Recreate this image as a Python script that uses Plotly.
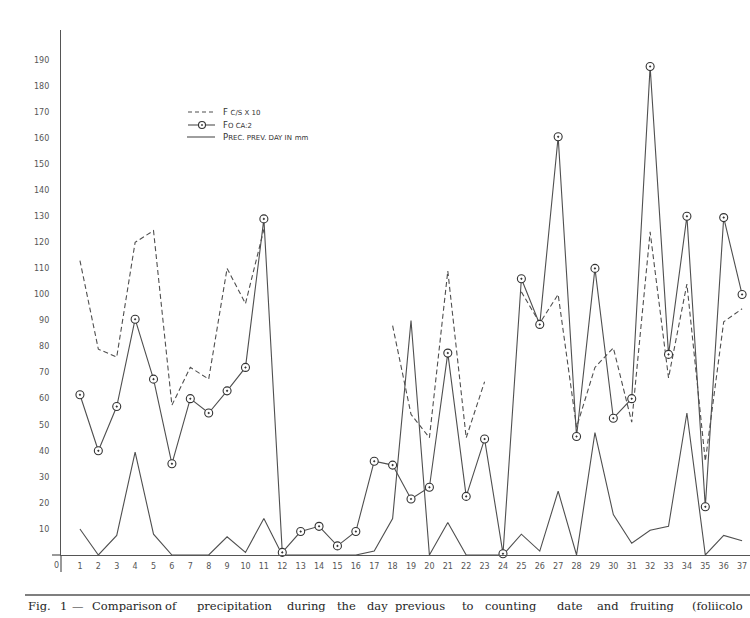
import plotly.graph_objects as go

# ---------------- data ----------------
days = list(range(1, 38))
x_tick_labels = [str(d) for d in days]
y_tick_vals = list(range(10, 200, 10))

# F c/s x 10 (dashed); None = no observation
f_cs_x10 = [113, 79, 76, 120, 124.5, 57.5, 72, 67.5, 110, 96.5, 125,
            None, None, None, None, None, None,
            88, 54, 45, 109, 45, 66.5,
            None,
            101, 89, 100, 49, 72, 79.5, 51, 124, 68, 104, 36, 89.5, 94.5]

# Fo CA:2 (solid with circles)
fo_ca2 = [61.5, 40, 57, 90.5, 67.5, 35, 60, 54.5, 63, 72, 129,
          1, 9, 11, 3.5, 9, 36, 34.5, 21.5, 26, 77.5, 22.5, 44.5,
          0.5, 106, 88.5, 160.5, 45.5, 110, 52.5, 60, 187.5, 77, 130, 18.5, 129.5, 100]

# Precipitation previous day in mm (solid)
prec = [10, 0, 7.5, 39.5, 8, 0, 0, 0, 7, 1, 14,
        0, 0, 0, 0, 0, 1.5, 14, 90, 0, 12.5, 0, 0,
        0, 8, 1.5, 24.5, 0, 47, 15.5, 4.5, 9.5, 11, 54.5, 0, 7.5, 5.5]

legend_names = ["F <span style='font-size:7px'>C/S X 10</span>",
                "F<span style='font-size:7px'>O CA:2</span>",
                "P<span style='font-size:7px'>REC. PREV. DAY IN</span> <span style='font-size:7px'>mm</span>"]

caption_words = ["Fig.", "1", "—", "Comparison", "of", "precipitation", "during", "the",
                 "day", "previous", "to", "counting", "date", "and", "fruiting", "(foliicolo"]
caption_px = [26, 58, 70, 90, 163, 195, 285, 335, 365, 393, 460, 483, 555, 595, 628, 690]

# ---------------- layout geometry ----------------
W, H = 750, 618
L, R, T, B = 61, 0, 30, 63
PW, PH = W - L - R, H - T - B


def px_x(px):
    return (px - L) / PW


def px_y(py):
    return (H - B - py) / PH


INK = "#4f4f4f"
fig = go.Figure()

fig.add_trace(go.Scatter(x=days, y=prec, mode="lines", name="prec",
                         line=dict(color=INK, width=1.1), cliponaxis=False,
                         showlegend=False))
fig.add_trace(go.Scatter(x=days, y=f_cs_x10, mode="lines", name="fcs",
                         line=dict(color=INK, width=1.1, dash="5px,3px"),
                         connectgaps=False, cliponaxis=False, showlegend=False))
fig.add_trace(go.Scatter(x=days, y=fo_ca2, mode="lines+markers", name="fo",
                         line=dict(color=INK, width=1.1), cliponaxis=False,
                         marker=dict(symbol="circle-dot", size=8, color="white",
                                     line=dict(color="#333333", width=1.1)),
                         showlegend=False))

tickfont = dict(family="DejaVu Sans", size=8, color="#555555")

fig.update_xaxes(range=[-0.03, 37.43], tickmode="array", tickvals=days,
                 ticktext=x_tick_labels, showgrid=False, zeroline=False,
                 showline=True, linecolor="#555555", linewidth=1.2,
                 ticks="", tickfont=tickfont, ticklabelstandoff=3)
fig.update_yaxes(range=[0, 201.5], tickmode="array", tickvals=y_tick_vals,
                 ticktext=[str(v) for v in y_tick_vals], showgrid=False,
                 zeroline=False, showline=True, linecolor="#555555", linewidth=1.2,
                 ticks="", tickfont=tickfont, ticklabelstandoff=9)

shapes = []
# axis extensions
shapes.append(dict(type="line", xref="paper", yref="paper", x0=0, x1=0,
                   y0=0, y1=px_y(572), line=dict(color="#555555", width=1.2)))
shapes.append(dict(type="line", xref="paper", yref="paper", x0=px_x(52), x1=0,
                   y0=0, y1=0, line=dict(color="#555555", width=1.2)))
# caption rule
shapes.append(dict(type="line", xref="paper", yref="paper", x0=px_x(25), x1=px_x(750),
                   y0=px_y(595), y1=px_y(595), line=dict(color="#555555", width=1.4)))
# legend samples
shapes.append(dict(type="line", xref="paper", yref="paper", x0=px_x(188), x1=px_x(213),
                   y0=px_y(112), y1=px_y(112), line=dict(color=INK, width=1.1, dash="4px,3px")))
shapes.append(dict(type="line", xref="paper", yref="paper", x0=px_x(188), x1=px_x(198.5),
                   y0=px_y(125), y1=px_y(125), line=dict(color=INK, width=1.1)))
shapes.append(dict(type="line", xref="paper", yref="paper", x0=px_x(205.5), x1=px_x(215),
                   y0=px_y(125), y1=px_y(125), line=dict(color=INK, width=1.1)))
shapes.append(dict(type="circle", xref="paper", yref="paper", x0=px_x(198.5), x1=px_x(205.5),
                   y0=px_y(128.5), y1=px_y(121.5), line=dict(color="#333333", width=1.1),
                   fillcolor="white"))
shapes.append(dict(type="circle", xref="paper", yref="paper", x0=px_x(201.3), x1=px_x(202.7),
                   y0=px_y(125.7), y1=px_y(124.3), line=dict(color="#333333", width=0.5),
                   fillcolor="#333333"))
shapes.append(dict(type="line", xref="paper", yref="paper", x0=px_x(187), x1=px_x(215),
                   y0=px_y(137), y1=px_y(137), line=dict(color=INK, width=1.1)))

annotations = []
annotations.append(dict(text="0", xref="paper", yref="paper", x=px_x(56), y=px_y(565),
                        showarrow=False, font=tickfont, xanchor="center", yanchor="middle"))
for name, py in zip(legend_names, [112, 125, 137]):
    annotations.append(dict(text=name, xref="paper", yref="paper", x=px_x(221), y=px_y(py),
                            showarrow=False, xanchor="left", yanchor="middle",
                            font=dict(family="DejaVu Sans", size=8.5, color="#333333")))
for wtxt, wx in zip(caption_words, caption_px):
    annotations.append(dict(text=wtxt, xref="paper", yref="paper",
                            x=px_x(wx), y=px_y(606),
                            showarrow=False, xanchor="left", yanchor="middle",
                            font=dict(family="DejaVu Serif", size=11.5, color="#262626")))

fig.update_layout(width=W, height=H, margin=dict(l=L, r=R, t=T, b=B),
                  paper_bgcolor="white", plot_bgcolor="white",
                  shapes=shapes, annotations=annotations, showlegend=False)

fig.write_html("out.html")
